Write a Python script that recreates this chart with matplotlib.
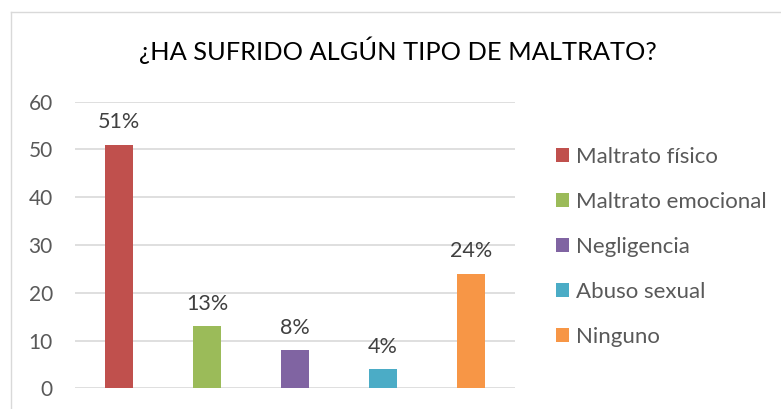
import matplotlib.pyplot as plt
from matplotlib.lines import Line2D

plt.rcParams['font.family'] = ['Lato', 'DejaVu Sans']

# data
categorias = ['Maltrato físico', 'Maltrato emocional', 'Negligencia', 'Abuso sexual', 'Ninguno']
valores = [51, 13, 8, 4, 24]
etiquetas = ['51%', '13%', '8%', '4%', '24%']
colores = ['#C0504D', '#9BBB59', '#8064A2', '#4BACC6', '#F79646']

gris = '#595959'

fig = plt.figure(figsize=(7.81, 4.09), dpi=100)
ax = fig.add_axes([75 / 781, 20.7 / 409, 440 / 781, 286.6 / 409])

bars = ax.bar(range(len(valores)), valores, width=0.318, color=colores, zorder=3)
for b, lab in zip(bars, etiquetas):
    ax.annotate(lab, (b.get_x() + b.get_width() / 2, b.get_height()),
                xytext=(0, 9), textcoords='offset points',
                ha='center', va='bottom', fontsize=15.5, color='#404040')

ax.set_xlim(-0.5, len(valores) - 0.5)
ax.set_ylim(0, 60)
ax.set_yticks(range(0, 61, 10))
ax.set_xticks([])
ax.grid(axis='y', color='#D9D9D9', linewidth=1.2, zorder=0)
for s in ax.spines.values():
    s.set_visible(False)
ax.tick_params(axis='y', length=0, pad=16, labelsize=15, labelcolor=gris)

fig.text(398 / 781, 1 - 50 / 409, '¿HA SUFRIDO ALGÚN TIPO DE MALTRATO?',
         ha='center', va='center', fontsize=18.3, color='#000000')

fig.legend(bars, categorias, loc='center left', bbox_to_anchor=(556 / 781, 1 - 247 / 409),
           frameon=False, fontsize=16, labelcolor=gris, handlelength=0.6, handleheight=0.6,
           handletextpad=0.32, labelspacing=1.12, borderpad=0, borderaxespad=0)

# chart border
fig.add_artist(Line2D([10.5 / 781, 1], [1 - 12 / 409, 1 - 12 / 409], color='#D9D9D9', lw=1))
fig.add_artist(Line2D([10.5 / 781, 10.5 / 781], [0, 1 - 12 / 409], color='#D9D9D9', lw=1))

fig.savefig('out.png', dpi=100)
